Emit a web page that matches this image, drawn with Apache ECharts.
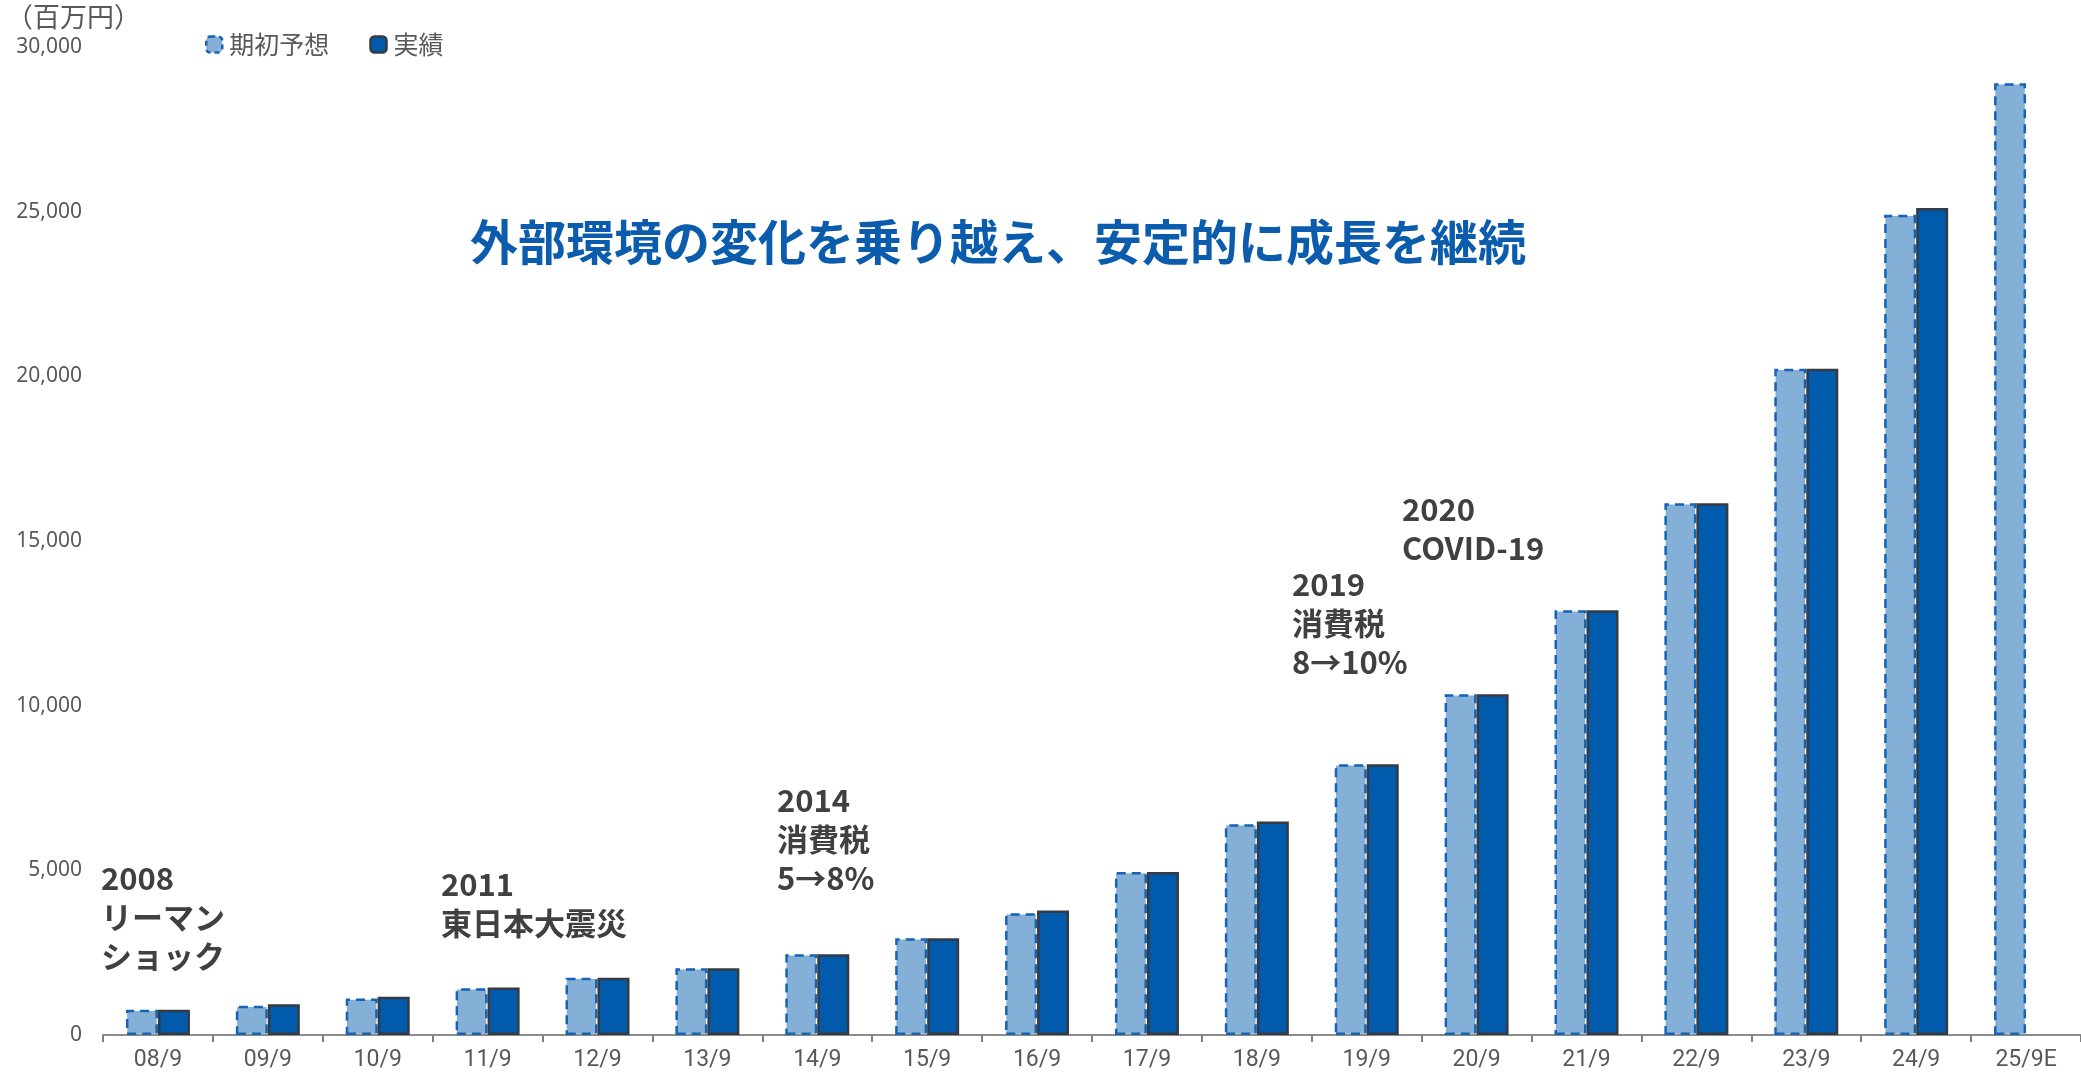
<!DOCTYPE html>
<html>
<head>
<meta charset="utf-8">
<script src="https://cdn.jsdelivr.net/npm/echarts@6/dist/echarts.min.js"></script>
<style>
html,body{margin:0;padding:0;background:#fff;}
#c{width:2081px;height:1072px;}
</style>
</head>
<body>
<div id="c"></div>
<script>
// ---- data ----
const categories = ['08/9','09/9','10/9','11/9','12/9','13/9','14/9','15/9','16/9','17/9','18/9','19/9','20/9','21/9','22/9','23/9','24/9','25/9E'];
const forecastValues = [770, 890, 1110, 1420, 1740, 2030, 2450, 2940, 3700, 4950, 6400, 8220, 10350, 12900, 16150, 20230, 24910, 28900];
const actualValues   = [770, 930, 1160, 1440, 1740, 2030, 2450, 2940, 3780, 4950, 6480, 8220, 10350, 12900, 16150, 20230, 25110, null];
const yTicks = { min: 0, max: 30000, interval: 5000 };
const seriesNames = ['期初予想', '実績'];
const unitLabel = '（百万円）';
const headline = '外部環境の変化を乗り越え、安定的に成長を継続';
const annotations = [
  { text: '2008\nリーマン\nショック', x: 101, y: 859 },
  { text: '2011\n東日本大震災', x: 441, y: 865 },
  { text: '2014\n消費税\n5→8%', x: 777, y: 781 },
  { text: '2019\n消費税\n8→10%', x: 1292, y: 565 },
  { text: '2020\nCOVID-19', x: 1402, y: 490 }
];

const chart = echarts.init(document.getElementById('c'), null, { renderer: 'canvas' });
const labelColor = '#595959';
const sansFont = '"Noto Sans CJK JP", "Noto Sans", sans-serif';
const forecastStyle = { color: '#84B0D8', borderColor: '#1563B2', borderWidth: 2.5, borderType: [9, 6] };
const actualStyle = { color: '#005BAC', borderColor: '#363b42', borderWidth: 2.5 };

chart.setOption({
  animation: false,
  backgroundColor: '#ffffff',
  grid: { left: 103, right: -6, top: 47, bottom: 37, containLabel: false },
  legend: {
    left: 200, top: 27,
    itemWidth: 16, itemHeight: 16, itemGap: 40,
    textStyle: { fontSize: 25, color: labelColor, fontFamily: sansFont, padding: [0,0,0,2] },
    data: [
      { name: seriesNames[0], itemStyle: { color: '#84B0D8', borderColor: '#1563B2', borderWidth: 2.5, borderType: [5, 4] } },
      { name: seriesNames[1], itemStyle: actualStyle }
    ]
  },
  xAxis: {
    type: 'category',
    data: categories,
    boundaryGap: true,
    axisLine: { lineStyle: { color: '#8c8c8c', width: 2 } },
    axisTick: { show: true, alignWithLabel: false, length: 7, lineStyle: { color: '#7f7f7f', width: 2 } },
    axisLabel: { fontSize: 23, color: labelColor, fontFamily: '"Liberation Sans Narrow", "Roboto", sans-serif', margin: 14 }
  },
  yAxis: {
    type: 'value',
    min: yTicks.min, max: yTicks.max, interval: yTicks.interval,
    axisLine: { show: false },
    axisTick: { show: false },
    splitLine: { show: false },
    axisLabel: {
      fontSize: 21, color: labelColor, fontFamily: '"Noto Sans", sans-serif', margin: 21,
      formatter: v => v.toLocaleString('en-US')
    }
  },
  series: [
    {
      name: seriesNames[0], type: 'bar', data: forecastValues,
      barWidth: 32, barGap: '0%',
      itemStyle: forecastStyle
    },
    {
      name: seriesNames[1], type: 'bar', data: actualValues,
      barWidth: 32,
      itemStyle: actualStyle
    }
  ],
  graphic: [
    { type: 'text', left: 6, top: 3,
      style: { text: unitLabel, font: '27px ' + sansFont, fill: labelColor } },
    { type: 'text', left: 470, top: 218,
      style: { text: headline, font: 'bold 48px ' + sansFont, fill: '#0B5CAD' } }
  ].concat(annotations.map(a => ({
    type: 'text', left: a.x, top: a.y,
    style: { text: a.text, font: 'bold 31px ' + sansFont, fill: '#404040', lineHeight: 39 }
  })))
});
</script>
</body>
</html>
